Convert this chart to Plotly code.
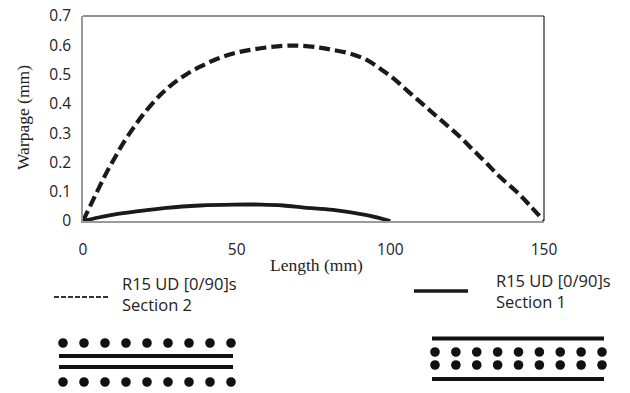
import plotly.graph_objects as go

# ---- data ----
sec2_x = [0, 5.5, 7.7, 10.4, 13.1, 16.4, 19.6, 25.1, 29.4, 33.2, 38.1, 43.5, 48.9, 55.4, 65.2, 71.5, 77, 81.4, 86.9, 92.3, 96.6, 101, 105.3, 109.7, 114, 118.4, 122.7, 127, 131.4, 135.7, 141.1, 145.5, 150]
sec2_y = [0, 0.12, 0.166, 0.217, 0.266, 0.318, 0.364, 0.43, 0.47, 0.498, 0.527, 0.553, 0.572, 0.586, 0.598, 0.598, 0.592, 0.584, 0.572, 0.55, 0.521, 0.487, 0.447, 0.407, 0.367, 0.327, 0.287, 0.242, 0.196, 0.15, 0.10, 0.052, 0]
sec1_x = [0, 5, 10, 16.4, 27.2, 38.1, 48.9, 58, 65.2, 72, 81.4, 92.3, 100]
sec1_y = [0, 0.012, 0.022, 0.031, 0.045, 0.053, 0.056, 0.056, 0.053, 0.046, 0.038, 0.02, 0]
x_ticks = [0, 50, 100, 150]
y_ticks = [0, 0.1, 0.2, 0.3, 0.4, 0.5, 0.6, 0.7]
y_tick_text = ["0", "0.1", "0.2", "0.3", "0.4", "0.5", "0.6", "0.7"]
legend_labels = ["R15 UD [0/90]s<br>Section 2", "R15 UD [0/90]s<br>Section 1"]
layup_sec2 = ["dots", "line", "line", "dots"]
layup_sec1 = ["line", "dots", "dots", "line"]
n_fibres = 9

W, H = 630, 393
L, R, T, B = 83, 544, 16, 221

def px(x):
    return (x - L) / (R - L)

def py(y):
    return (B - y) / (B - T)

INK = "#1a1a1a"
fig = go.Figure()
fig.add_trace(go.Scatter(x=sec2_x, y=sec2_y, mode="lines", line=dict(color=INK, width=4.2, dash="11px,5px", shape="spline", smoothing=1.0), showlegend=False))
fig.add_trace(go.Scatter(x=sec1_x, y=sec1_y, mode="lines", line=dict(color=INK, width=3.8, shape="spline", smoothing=1.0), showlegend=False))

shapes = []
annotations = []
# top and right frame lines
shapes.append(dict(type="line", xref="paper", yref="paper", x0=0, x1=1, y0=1, y1=1, line=dict(color="#222", width=1.2)))
shapes.append(dict(type="line", xref="paper", yref="paper", x0=1, x1=1, y0=0, y1=1, line=dict(color="#222", width=1.2)))

TXT = dict(family="Open Sans", size=16.5, color="#222")
# legend samples
shapes.append(dict(type="line", xref="paper", yref="paper", x0=px(54), x1=px(109), y0=py(297), y1=py(297), line=dict(color="#333", width=1.8, dash="5px,2px")))
shapes.append(dict(type="line", xref="paper", yref="paper", x0=px(414), x1=px(468), y0=py(291), y1=py(291), line=dict(color=INK, width=3.3)))
annotations.append(dict(text=legend_labels[0], x=px(120), y=py(294), xref="paper", yref="paper", xanchor="left", yanchor="middle", showarrow=False, align="left", font=TXT))
annotations.append(dict(text=legend_labels[1], x=px(494), y=py(291), xref="paper", yref="paper", xanchor="left", yanchor="middle", showarrow=False, align="left", font=TXT))

def draw_layup(layers, x0, x1, ys, dx0, dx1):
    for kind, yy in zip(layers, ys):
        if kind == "line":
            shapes.append(dict(type="line", xref="paper", yref="paper", x0=px(x0), x1=px(x1), y0=py(yy), y1=py(yy), line=dict(color="#111", width=4)))
        else:
            step = (dx1 - dx0) / (n_fibres - 1)
            for i in range(n_fibres):
                cx = dx0 + i * step
                r = 4.8
                shapes.append(dict(type="circle", xref="paper", yref="paper", x0=px(cx - r), x1=px(cx + r), y0=py(yy + r), y1=py(yy - r), fillcolor="#111", line=dict(width=0)))

draw_layup(layup_sec2, 59, 233, [343, 356, 367, 382], 63, 231)
draw_layup(layup_sec1, 432, 604, [338.5, 352, 365, 379], 435, 602)

# axis titles
SERIF = dict(family="Liberation Serif", size=17.5, color="#222")
annotations.append(dict(text="Length (mm)", x=px(316), y=py(265), xref="paper", yref="paper", xanchor="center", yanchor="middle", showarrow=False, font=SERIF))
annotations.append(dict(text="Warpage (mm)", x=px(23), y=py(118), xref="paper", yref="paper", xanchor="center", yanchor="middle", textangle=-90, showarrow=False, font=SERIF))

fig.update_layout(
    width=W, height=H,
    margin=dict(l=L, r=W - R, t=T, b=H - B),
    paper_bgcolor="white", plot_bgcolor="white",
    shapes=shapes, annotations=annotations,
    showlegend=False,
)
TICK = dict(family="Open Sans", size=15.5, color="#222")
fig.update_xaxes(range=[0, 150], tickvals=x_ticks, showgrid=False, zeroline=False, showline=True, linecolor="#9a9a9a", linewidth=1.5,
                 ticks="", ticklabelstandoff=14, tickfont=TICK, automargin=False)
fig.update_yaxes(range=[0, 0.7], tickvals=y_ticks, ticktext=y_tick_text, showgrid=False, zeroline=False, showline=True, linecolor="#9a9a9a", linewidth=1.5,
                 ticks="", ticklabelstandoff=7, tickfont=TICK, automargin=False)

fig.write_html("out.html", config={"displayModeBar": False}, post_script="document.body.style.margin='0';")
